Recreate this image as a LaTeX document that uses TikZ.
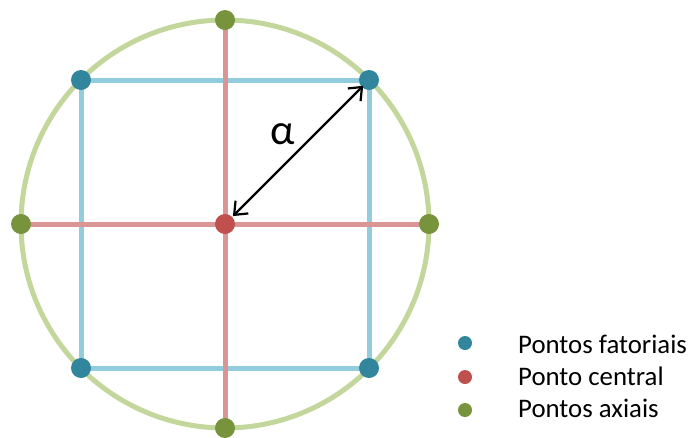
\documentclass[tikz,border=0pt]{standalone}
\usepackage{fontspec}
\setmainfont{Carlito}
\usepackage{xcolor}
\usetikzlibrary{arrows.meta}

\definecolor{ringgreen}{HTML}{C3D69B}
\definecolor{sqblue}{HTML}{93CDDD}
\definecolor{crossred}{HTML}{D99694}
\definecolor{fatblue}{HTML}{31859C}
\definecolor{cenred}{HTML}{C0504D}
\definecolor{axgreen}{HTML}{77933C}

\begin{document}
\begin{tikzpicture}[x=1pt, y=-1pt,
  dot/.style={circle, inner sep=0pt, minimum size=20pt},
  legdot/.style={circle, inner sep=0pt, minimum size=14pt},
  legtext/.style={anchor=base west, inner sep=0pt, font=\fontsize{26.8}{32}\selectfont}]
\useasboundingbox (0,0) rectangle (691,437);

% Points of the design
\coordinate (c) at (225,224);
\coordinate (f1) at (81,80);
\coordinate (f2) at (369,80);
\coordinate (f3) at (369,368);
\coordinate (f4) at (81,368);
\coordinate (a1) at (225,20);
\coordinate (a2) at (429,224);
\coordinate (a3) at (225,428);
\coordinate (a4) at (21,224);

% Circle through the axial points
\draw[line width=5pt, ringgreen] (c) circle (204pt);

% Square of factorial points
\draw[line width=5pt, sqblue] (f1) -- (f2) -- (f3) -- (f4) -- cycle;

% Cross through the center
\draw[line width=5pt, crossred] (a1) -- (a3);
\draw[line width=5pt, crossred] (a4) -- (a2);

% Mark points
\node[dot, fill=cenred] (pc) at (c) {};
\foreach \p in {f1,f2,f3,f4}
  \node[dot, fill=fatblue] (p\p) at (\p) {};
\foreach \p in {a1,a2,a3,a4}
  \node[dot, fill=axgreen] (p\p) at (\p) {};

% Distance alpha
\draw[{Straight Barb[length=11pt,width=18pt]}-{Straight Barb[length=11pt,width=18pt]}, line width=2.2pt, shorten <=1pt, shorten >=-2pt] (pc) -- (pf2);
\node[font=\fontsize{43}{43}\selectfont] (alpha) at (283,134) {α};

% Legend
\node[legdot, fill=fatblue] (l1) at (465,343) {};
\node[legdot, fill=cenred] (l2) at (465,377) {};
\node[legdot, fill=axgreen] (l3) at (465,410) {};
\node[legtext] (t1) at (518,353) {Pontos fatoriais};
\node[legtext] (t2) at (518,385) {Ponto central};
\node[legtext] (t3) at (518,417) {Pontos axiais};

\end{tikzpicture}
\end{document}
